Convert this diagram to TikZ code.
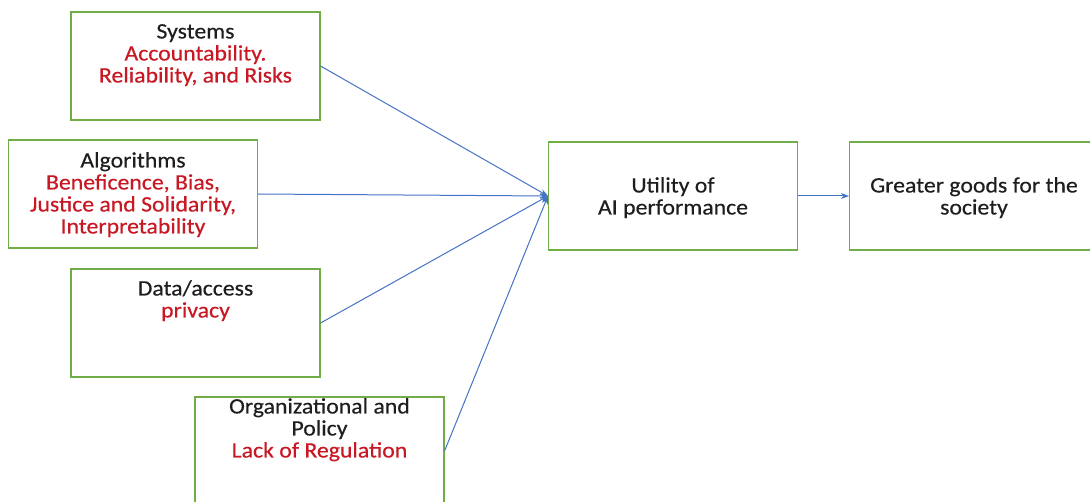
\documentclass[tikz,border=0pt]{standalone}
\usepackage{fontspec}
\setmainfont{Carlito}[FakeStretch=1.08, FakeBold=0.4]
\usetikzlibrary{arrows.meta}
\definecolor{boxgreen}{RGB}{112,173,71}
\definecolor{linkblue}{RGB}{68,114,196}
\definecolor{issuered}{RGB}{200,24,36}
\definecolor{textgray}{RGB}{30,30,30}
\tikzset{
  box/.style={draw=boxgreen, line width=1.1pt, minimum width=249pt, minimum height=108pt, inner sep=0pt},
  txt/.style={anchor=north, align=center, inner sep=0pt, text=textgray, font=\fontsize{22}{22}\selectfont},
  link/.style={linkblue, line width=1pt, -{Stealth[length=8pt,width=6pt]}}
}
\newcommand{\issue}[1]{\textcolor{issuered}{#1}}
\begin{document}
\begin{tikzpicture}[x=1pt, y=-1pt]
\useasboundingbox (0,0) rectangle (1090,502);
% Boxes
\node[box] (sys) at (195.5,66) {};
\node[box] (alg) at (133,194) {};
\node[box] (data) at (195.5,323) {};
\node[box] (org) at (319.5,451) {};
\node[box] (util) at (673,196) {};
\node[box] (good) at (974,196) {};
% Texts of the boxes
\node[txt] (sys-txt) at (195.5,24) {Systems\\ \issue{Accountability.}\\ \issue{Reliability, and Risks}};
\node[txt] (alg-txt) at (133,152) {Algorithms\\ \issue{Beneficence, Bias,}\\ \issue{Justice and Solidarity,}\\ \issue{Interpretability}};
\node[txt] (data-txt) at (195.5,280) {Data/access\\ \issue{privacy}};
\node[txt] (org-txt) at (319.5,398) {Organizational and\\ Policy\\ \issue{Lack of Regulation}};
\node[txt] (util-txt) at (673,177) {Utility of\\ AI performance};
\node[txt] (good-txt) at (974,177) {Greater goods for the\\ society};
% Arrows into the utility box
\draw[link] (sys.east) -- (util.west);
\draw[link] (alg.east) -- (util.west);
\draw[link] (data.east) -- (util.west);
\draw[link] (org.east) -- (util.west);
\draw[link] (util.east) -- (good.west);
\end{tikzpicture}
\end{document}
